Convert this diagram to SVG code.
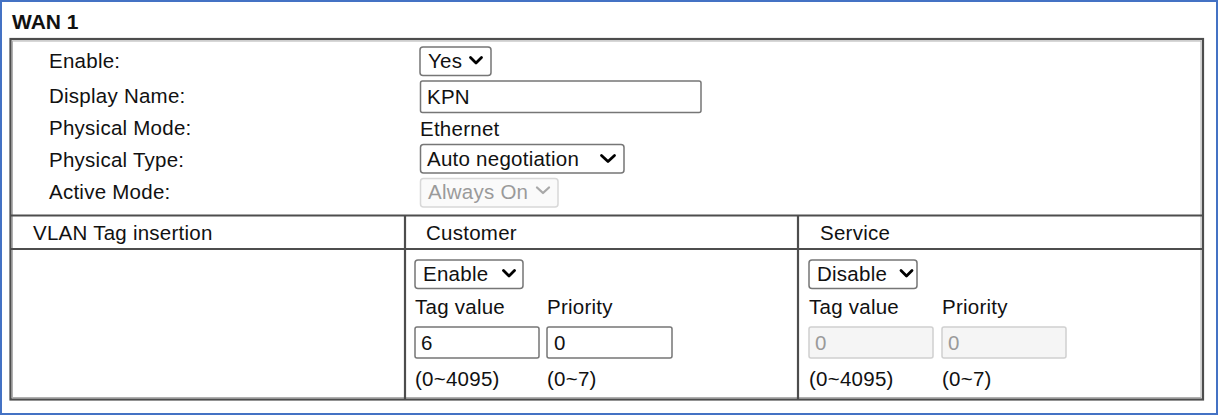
<svg xmlns="http://www.w3.org/2000/svg" width="1220" height="417" viewBox="0 0 1220 417">
<style>
text{font-family:"Liberation Sans",Arial,sans-serif;font-size:20.5px;letter-spacing:0.25px;fill:#111}
.b{font-weight:bold;font-size:21px;letter-spacing:0}
.dis{fill:#9a9a9a}
.sel{fill:#fff;stroke:#767676;stroke-width:1.5}
.inp{fill:#fff;stroke:#767676;stroke-width:1.5}
.dinp{fill:#f5f5f5;stroke:#d0d0d0;stroke-width:1.5}
.dsel{fill:#fafafa;stroke:#d8d8d8;stroke-width:1.5}
.chev{fill:none;stroke:#000;stroke-width:2.8;stroke-linecap:round;stroke-linejoin:round}
.dchev{fill:none;stroke:#a8a8a8;stroke-width:2.3;stroke-linecap:round;stroke-linejoin:round}
.tl{fill:none;stroke:#4d4d4d;stroke-width:2.2}
.tl2{fill:none;stroke:#b0b0b0;stroke-width:1}
</style>
<rect x="0" y="0" width="1220" height="417" fill="#fff"/>
<rect id="frame" x="1" y="1" width="1216" height="413" fill="none" stroke="#4472c4" stroke-width="2"/>
<text id="title" class="b" x="12" y="29">WAN 1</text>

<g id="table">
  <rect class="tl" x="10.5" y="39" width="1192.5" height="360.5"/>
  <rect class="tl2" x="12.5" y="41" width="1188.5" height="356.5"/>
  <line class="tl" x1="10.5" y1="215.5" x2="1203" y2="215.5"/>
  <line class="tl" x1="10.5" y1="249" x2="1203" y2="249"/>
  <line class="tl" x1="405" y1="215.5" x2="405" y2="399.5"/>
  <line class="tl" x1="798" y1="215.5" x2="798" y2="399.5"/>
</g>

<g id="labels">
  <text x="49" y="68">Enable:</text>
  <text x="49" y="103">Display Name:</text>
  <text x="49" y="135">Physical Mode:</text>
  <text x="49" y="167">Physical Type:</text>
  <text x="49" y="199">Active Mode:</text>
</g>

<g id="enable-select">
  <rect class="sel" x="420" y="47" width="71" height="28.5" rx="3"/>
  <text x="428" y="68">Yes</text>
  <path class="chev" d="M470.5 57.5 L476 63 L481.5 57.5"/>
</g>
<g id="display-name">
  <rect class="inp" x="420.5" y="81" width="280.5" height="31.5" rx="2"/>
  <text x="427" y="104">KPN</text>
</g>
<g id="physical-mode">
  <text x="420" y="136">Ethernet</text>
</g>
<g id="physical-type">
  <rect class="sel" x="420.5" y="144.5" width="203.5" height="28.5" rx="3"/>
  <text x="427" y="166">Auto negotiation</text>
  <path class="chev" d="M601.5 155.5 L608 161.5 L614.5 155.5"/>
</g>
<g id="active-mode">
  <rect class="dsel" x="420.5" y="178.5" width="137.5" height="28.5" rx="3"/>
  <text class="dis" x="428" y="199">Always On</text>
  <path class="dchev" d="M537 187.5 L543 193 L549 187.5"/>
</g>

<g id="vlan-header">
  <text x="33" y="240">VLAN Tag insertion</text>
  <text x="426" y="240">Customer</text>
  <text x="820" y="240">Service</text>
</g>

<g id="customer">
  <rect class="sel" x="415" y="260" width="108" height="28.5" rx="3"/>
  <text x="423" y="281">Enable</text>
  <path class="chev" d="M503.5 270.5 L509 276 L514.5 270.5"/>
  <text x="415" y="314">Tag value</text>
  <text x="547" y="314">Priority</text>
  <rect class="inp" x="415" y="327" width="124" height="31" rx="2"/>
  <text x="421" y="350">6</text>
  <rect class="inp" x="547" y="327" width="125" height="31" rx="2"/>
  <text x="554" y="350">0</text>
  <text x="415" y="386">(0~4095)</text>
  <text x="547" y="386">(0~7)</text>
</g>

<g id="service">
  <rect class="sel" x="809" y="260" width="108" height="28.5" rx="3"/>
  <text x="817" y="281">Disable</text>
  <path class="chev" d="M901 270.5 L906.5 276 L912 270.5"/>
  <text x="809" y="314">Tag value</text>
  <text x="942" y="314">Priority</text>
  <rect class="dinp" x="809" y="327" width="124" height="31" rx="2"/>
  <text class="dis" x="815" y="350">0</text>
  <rect class="dinp" x="942" y="327" width="124" height="31" rx="2"/>
  <text class="dis" x="948" y="350">0</text>
  <text x="809" y="386">(0~4095)</text>
  <text x="942" y="386">(0~7)</text>
</g>
</svg>
